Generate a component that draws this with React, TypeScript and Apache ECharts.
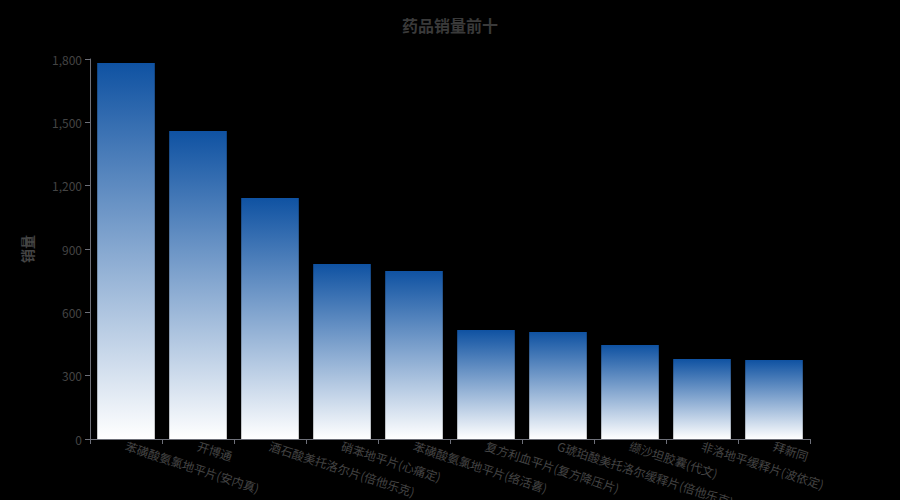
import React, { useEffect, useRef } from "react";
import * as echarts from "echarts";

const categories = [
  "苯磺酸氨氯地平片(安内真)",
  "开博通",
  "酒石酸美托洛尔片(倍他乐克)",
  "硝苯地平片(心痛定)",
  "苯磺酸氨氯地平片(络活喜)",
  "复方利血平片(复方降压片)",
  "G琥珀酸美托洛尔缓释片(倍他乐克)",
  "缬沙坦胶囊(代文)",
  "非洛地平缓释片(波依定)",
  "拜新同",
];
const sales = [1781, 1459, 1142, 829, 796, 516, 507, 445, 379, 374];
const titleText = "药品销量前十";
const yName = "销量";

export default function App() {
  const ref = useRef<HTMLDivElement>(null);
  useEffect(() => {
    if (!ref.current) return;
    const chart = echarts.init(ref.current, undefined, { renderer: "svg" });
    const font = "'Noto Sans CJK SC', 'Noto Sans', sans-serif";
    chart.setOption({
      animation: false,
      backgroundColor: "#000",
      textStyle: { fontFamily: font },
      title: {
        text: titleText,
        left: "center",
        top: 12,
        textStyle: { color: "#3a3a3a", fontSize: 16, fontWeight: "bold", fontFamily: font },
      },
      grid: { left: 90, right: 90, top: 59, bottom: 61, containLabel: false, outerBoundsMode: "none" },
      xAxis: {
        type: "category",
        data: categories,
        axisLine: { lineStyle: { color: "#6e7079" } },
        axisTick: { show: true, alignWithLabel: false },
        axisLabel: {
          interval: 0,
          rotate: -18,
          color: "#444",
          fontSize: 12,
          margin: 6,
          fontFamily: font,
        },
      },
      yAxis: {
        type: "value",
        min: 0,
        max: 1800,
        interval: 300,
        name: yName,
        nameLocation: "middle",
        nameGap: 56,
        nameTextStyle: { color: "#444", fontSize: 14, fontWeight: "bold", fontFamily: font },
        axisLine: { show: true, lineStyle: { color: "#6e7079" } },
        axisTick: { show: true },
        splitLine: { show: false },
        axisLabel: { color: "#444", fontSize: 12, fontFamily: font },
      },
      series: [
        {
          type: "bar",
          data: sales,
          barWidth: "80%",
          itemStyle: {
            color: new echarts.graphic.LinearGradient(0, 0, 0, 1, [
              { offset: 0, color: "#0f52a2" },
              { offset: 1, color: "#ffffff" },
            ]),
          },
        },
      ],
    });
    return () => chart.dispose();
  }, []);
  return <div ref={ref} style={{ width: 900, height: 500, position: "absolute", left: 0, top: 0 }} />;
}
